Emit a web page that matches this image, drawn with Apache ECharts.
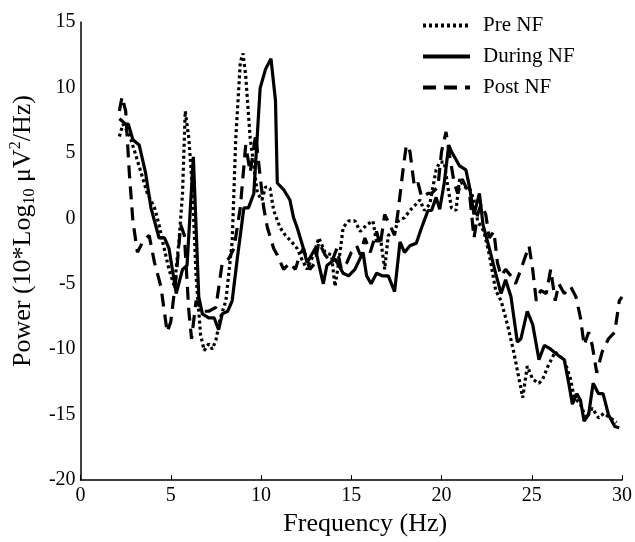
<!DOCTYPE html>
<html>
<head>
<meta charset="utf-8">
<script src="https://cdn.jsdelivr.net/npm/echarts@6/dist/echarts.min.js"></script>
<style>
  html, body { margin: 0; padding: 0; background: #fff; }
  #chart { width: 635px; height: 542px; }
</style>
</head>
<body>
<div id="chart"></div>
<script>
// frequency (Hz) / power values
const preHz = [2.15, 2.35, 2.7, 3.0, 3.35, 3.7, 4.1, 4.35, 4.55, 4.9, 5.2, 5.45, 5.65, 5.8, 6.0, 6.2, 6.4, 6.65, 6.85, 7.1, 7.3, 7.5, 7.75, 8.05, 8.4, 8.6, 8.85, 9.0, 9.15, 9.4, 9.6, 9.8, 10.05, 10.25, 10.5, 10.7, 11.05, 11.35, 11.7, 12.0, 12.25, 12.55, 12.9, 13.2, 13.55, 13.9, 14.1, 14.3, 14.55, 14.85, 15.2, 15.5, 15.85, 16.2, 16.4, 16.6, 16.85, 17.05, 17.4, 17.6, 17.95, 18.25, 18.6, 18.8, 19.05, 19.35, 19.7, 19.9, 20.15, 20.35, 20.55, 20.8, 21.0, 21.25, 21.55, 21.8, 22.0, 22.35, 22.65, 23.0, 23.3, 23.65, 24.0, 24.3, 24.5, 24.75, 25.05, 25.4, 25.6, 25.9, 26.3, 26.5, 26.8, 27.15, 27.35, 27.7, 28.0, 28.35, 28.7, 29.0, 29.35, 29.7];
const preVal = [6.25, 7.2, 6.4, 5.1, 3.5, 1.9, 0.8, -0.5, -1.8, -3.9, -5.2, -1.8, 1.9, 8.2, 6.1, 2.2, -4.4, -8.9, -10.1, -9.6, -10.0, -9.3, -7.6, -6.3, -1.8, 6.1, 11.9, 12.6, 10.9, 6.1, 4.0, 1.9, 1.4, 2.4, 2.3, 0.6, -0.7, -1.3, -1.8, -2.3, -3.1, -3.9, -2.8, -1.5, -2.6, -2.8, -5.2, -3.4, -0.7, -0.2, -0.2, -1.0, -0.5, -0.2, -1.8, -1.3, -3.9, -1.3, -1.0, -0.2, 0.05, 0.6, 1.1, 1.4, 0.6, 1.1, 3.7, 4.3, 4.3, 2.4, 0.8, 0.6, 3.0, 2.4, 2.3, 1.4, -0.2, -1.0, -2.8, -5.5, -6.3, -8.1, -10.2, -12.3, -13.7, -11.3, -12.3, -12.6, -12.3, -11.3, -10.2, -10.5, -10.8, -12.3, -13.7, -14.2, -15.25, -14.5, -15.25, -14.9, -15.25, -15.6];

const duringHz = [2.15, 2.5, 2.65, 2.9, 3.25, 3.6, 3.9, 4.35, 4.65, 4.9, 5.3, 5.65, 5.9, 6.25, 6.55, 6.75, 7.1, 7.4, 7.65, 7.85, 8.15, 8.4, 8.7, 9.05, 9.3, 9.6, 9.95, 10.25, 10.55, 10.8, 10.9, 11.25, 11.6, 11.8, 12.0, 12.35, 12.55, 13.0, 13.45, 13.65, 14.1, 14.55, 14.85, 15.2, 15.65, 15.85, 16.1, 16.4, 16.75, 17.05, 17.4, 17.7, 17.95, 18.25, 18.6, 18.9, 19.25, 19.45, 19.7, 19.9, 20.15, 20.4, 20.55, 20.8, 21.0, 21.35, 21.55, 21.8, 22.1, 22.3, 22.65, 23.0, 23.3, 23.55, 23.85, 24.2, 24.4, 24.75, 25.05, 25.4, 25.7, 26.05, 26.4, 26.8, 27.05, 27.25, 27.5, 27.7, 27.9, 28.15, 28.4, 28.7, 28.95, 29.25, 29.6, 29.85];
const duringVal = [7.6, 7.2, 7.2, 6.0, 5.6, 3.5, 0.8, -1.5, -1.5, -2.3, -5.75, -3.9, -3.6, 4.7, -6.0, -7.3, -7.6, -7.6, -8.5, -7.3, -7.1, -6.3, -2.9, 0.8, 0.8, 1.9, 9.95, 11.4, 12.2, 9.0, 2.7, 2.2, 1.4, 0.05, -0.7, -2.3, -3.4, -2.3, -5.0, -3.6, -3.1, -4.2, -4.4, -3.9, -2.6, -4.4, -5.0, -4.2, -4.4, -4.4, -5.6, -1.8, -2.6, -2.1, -1.9, -0.7, 0.6, 0.6, 1.6, 0.7, 2.7, 5.6, 5.1, 4.5, 4.0, 3.7, 2.4, 0.3, 1.9, -0.5, -2.3, -4.2, -5.75, -4.7, -6.0, -9.45, -9.2, -7.1, -8.1, -10.8, -9.7, -10.0, -10.4, -10.8, -12.6, -14.2, -13.4, -13.9, -15.5, -15.0, -12.6, -13.4, -13.4, -15.0, -15.9, -16.0];

const postHz = [2.15, 2.3, 2.5, 2.7, 2.9, 3.15, 3.45, 3.8, 4.1, 4.45, 4.8, 5.0, 5.3, 5.55, 5.75, 6.0, 6.15, 6.4, 6.75, 7.1, 7.5, 7.85, 8.2, 8.5, 8.85, 9.15, 9.4, 9.7, 9.95, 10.15, 10.35, 10.7, 10.9, 11.25, 11.6, 11.9, 12.15, 12.35, 12.7, 13.0, 13.2, 13.55, 13.9, 14.2, 14.45, 14.75, 15.0, 15.3, 15.5, 15.75, 16.05, 16.4, 16.6, 16.85, 17.2, 17.4, 17.6, 17.85, 18.05, 18.25, 18.5, 18.7, 18.9, 19.25, 19.45, 19.8, 20.0, 20.25, 20.45, 20.7, 20.9, 21.15, 21.35, 21.55, 21.8, 22.0, 22.2, 22.45, 22.65, 22.9, 23.1, 23.3, 23.55, 23.85, 24.1, 24.4, 24.85, 25.05, 25.25, 25.5, 25.8, 26.05, 26.3, 26.5, 26.8, 27.15, 27.45, 27.7, 27.9, 28.15, 28.35, 28.6, 28.9, 29.25, 29.6, 29.85, 30.0];
const postVal = [8.2, 9.3, 8.2, 3.5, -0.2, -2.6, -1.8, -1.3, -3.4, -5.2, -8.7, -7.9, -4.4, -0.5, -1.3, -7.1, -9.2, -6.3, -7.1, -7.1, -6.8, -3.4, -3.1, -2.3, 0.8, 5.6, 3.5, 6.4, 3.2, 0.8, -0.7, -2.3, -2.8, -3.9, -3.4, -3.9, -2.8, -2.3, -3.9, -3.4, -1.8, -2.8, -3.4, -2.3, -3.9, -3.4, -2.6, -2.1, -2.8, -1.5, -2.6, -1.0, -2.1, 0.3, -0.7, -1.3, 0.6, 3.5, 5.6, 5.1, 2.4, 2.7, 1.6, 1.9, 1.9, 2.4, 5.1, 6.6, 4.8, 2.7, 1.9, 3.0, 2.4, 1.9, -1.5, 0.3, 1.1, 0.3, -1.5, -1.0, -3.4, -4.4, -3.9, -4.4, -5.0, -3.9, -2.1, -3.9, -6.3, -5.5, -5.75, -3.9, -6.3, -5.0, -5.75, -5.2, -6.0, -7.6, -9.7, -8.7, -9.7, -11.8, -10.2, -9.2, -8.7, -6.3, -6.0];

const seriesNames = ['Pre NF', 'During NF', 'Post NF'];
const xTicks = [0, 5, 10, 15, 20, 25, 30];
const yTicks = [-20, -15, -10, -5, 0, 5, 10, 15];

const FONT = 'Liberation Serif';
const zip = (xs, ys) => xs.map((x, i) => [x, ys[i]]);

const chart = echarts.init(document.getElementById('chart'));

chart.setOption({
  backgroundColor: '#fff',
  animation: false,
  grid: { left: 80, right: 2, top: 22, bottom: 61 },
  legend: {
    orient: 'vertical',
    left: 416,
    top: 10,
    itemWidth: 47,
    itemHeight: 14,
    itemGap: 10,
    itemStyle: { opacity: 0 },
    lineStyle: { width: 4 },
    textStyle: { fontFamily: FONT, fontSize: 21, color: '#000', padding: [0, 0, 0, 8] },
    data: seriesNames
  },
  xAxis: {
    type: 'value',
    min: xTicks[0],
    max: xTicks[xTicks.length - 1],
    interval: 5,
    name: 'Frequency (Hz)',
    nameLocation: 'middle',
    nameGap: 30,
    nameTextStyle: { fontFamily: FONT, fontSize: 26, color: '#000', padding: [0, 0, 0, 28] },
    axisLine: { onZero: false, lineStyle: { color: '#000', width: 1.5 } },
    axisTick: { show: true, inside: true, length: 5, lineStyle: { color: '#000' } },
    axisLabel: { fontFamily: FONT, fontSize: 20, color: '#000', margin: 6 },
    splitLine: { show: false }
  },
  yAxis: {
    type: 'value',
    min: yTicks[0],
    max: yTicks[yTicks.length - 1],
    interval: 5,
    name: '{a|Power (10*Log}{b|10}{a| μV}{c|2}{a|/Hz)}',
    nameLocation: 'middle',
    nameRotate: 90,
    nameGap: 40,
    nameTextStyle: {
      fontFamily: FONT, color: '#000', padding: [0, 0, 0, 40],
      rich: {
        a: { fontFamily: FONT, fontSize: 26, color: '#000', lineHeight: 30 },
        b: { fontFamily: FONT, fontSize: 16, color: '#000', lineHeight: 30, verticalAlign: 'bottom' },
        c: { fontFamily: FONT, fontSize: 16, color: '#000', lineHeight: 30, verticalAlign: 'top' }
      }
    },
    axisLine: { show: true, onZero: false, lineStyle: { color: '#000', width: 1.5 } },
    axisTick: { show: false },
    axisLabel: { fontFamily: FONT, fontSize: 20, color: '#000', margin: 5 },
    splitLine: { show: false }
  },
  series: [
    {
      name: seriesNames[0], type: 'line', symbol: 'none',
      lineStyle: { color: '#000', width: 3.2, type: [3, 3] },
      itemStyle: { color: '#000' },
      data: zip(preHz, preVal)
    },
    {
      name: seriesNames[1], type: 'line', symbol: 'none',
      lineStyle: { color: '#000', width: 3.2, type: 'solid' },
      itemStyle: { color: '#000' },
      data: zip(duringHz, duringVal)
    },
    {
      name: seriesNames[2], type: 'line', symbol: 'none',
      lineStyle: { color: '#000', width: 3.2, type: [13, 8] },
      itemStyle: { color: '#000' },
      data: zip(postHz, postVal)
    }
  ]
});
</script>
</body>
</html>
